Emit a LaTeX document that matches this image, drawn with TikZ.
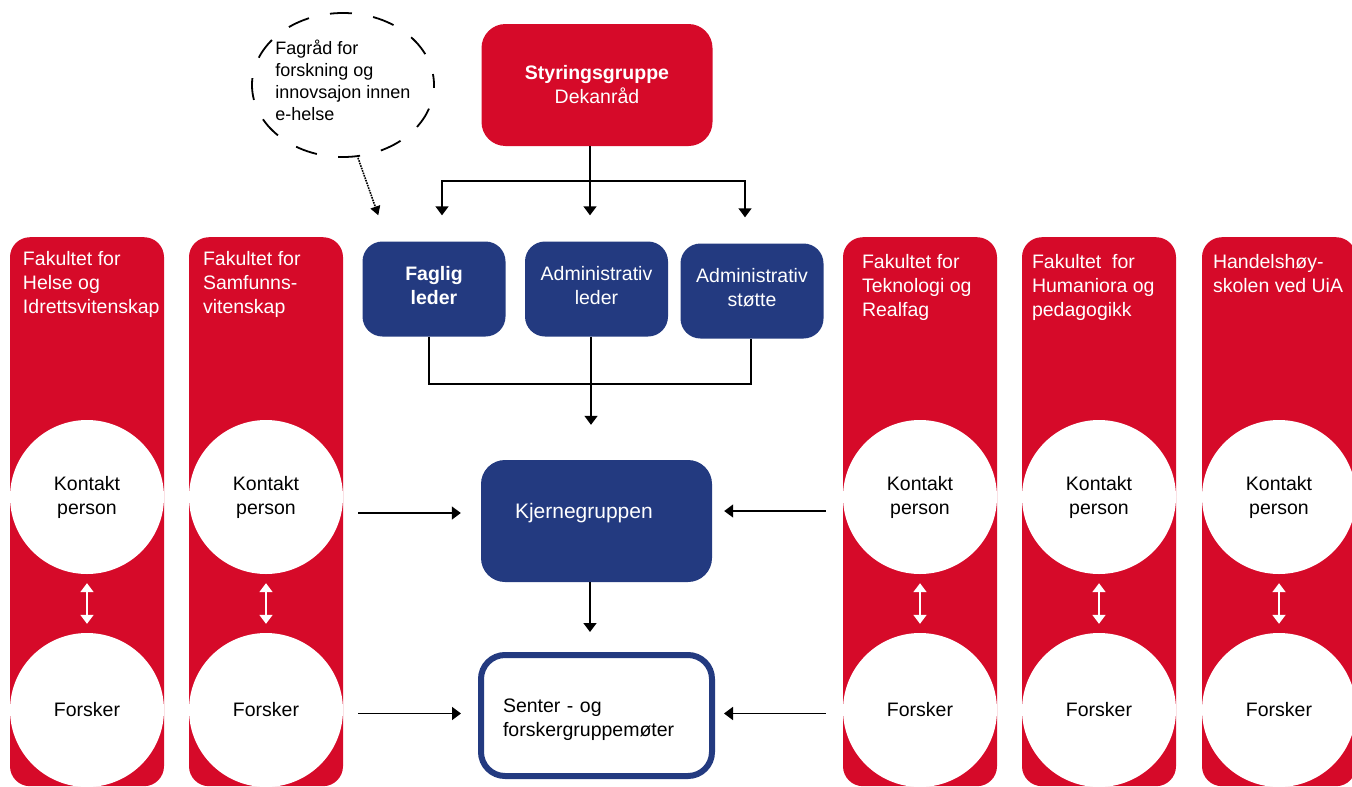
\documentclass[tikz,border=0pt]{standalone}
\usepackage{fontspec}
\setmainfont{Liberation Sans}
\usepackage{color}
\definecolor{uiared}{RGB}{214,10,41}
\definecolor{uiablue}{RGB}{35,58,128}
\usepackage{tikz}
\usetikzlibrary{calc,arrows.meta,shapes.geometric,positioning}
\tikzstyle{redbox}=[fill=uiared,rounded corners=24pt,minimum width=231pt,minimum height=122pt,text=white,align=center,font=\fontsize{19.5}{24}\selectfont]
\tikzstyle{bluebox}=[fill=uiablue,rounded corners=20pt,minimum width=143pt,minimum height=95pt,text=white,align=center,text depth=8pt,font=\fontsize{19.5}{24}\selectfont]
\tikzstyle{column}=[fill=uiared,rounded corners=20pt,minimum width=154pt,minimum height=549pt,inner sep=0pt,anchor=north]
\tikzstyle{coltext}=[text=white,align=left,inner sep=0pt,font=\fontsize{19.5}{24}\selectfont]
\tikzstyle{person}=[circle,fill=white,minimum size=154pt,inner sep=0pt,align=center,font=\fontsize{19.5}{24}\selectfont]
\tikzstyle{link}=[line width=1.6pt,-{Triangle[length=9pt,width=13pt]}]
\tikzstyle{swap}=[line width=1.8pt,white,{Triangle[length=9pt,width=13pt]}-{Triangle[length=9pt,width=13pt]},shorten <=9pt,shorten >=9pt]

\begin{document}
\begin{tikzpicture}[x=1pt,y=-1pt]
\useasboundingbox (0,0) rectangle (1352,787);
\clip (0,0) rectangle (1352,787);
% top
\draw (343, 85) node [ellipse, draw, dashed, line width=1.8pt, dash pattern=on 22pt off 21.5pt, dash phase=11pt, minimum width=182pt, minimum height=144pt, align=left, inner xsep=-5pt, inner ysep=0pt, text depth=9pt, font=\fontsize{18}{22}\selectfont] (fagrad) {Fagråd for\\forskning og\\innovsajon innen\\e-helse};
\draw (597, 85) node [redbox] (styr) {\textbf{Styringsgruppe}\\Dekanråd};
\draw (434, 289) node [bluebox] (faglig) {\textbf{Faglig}\\\textbf{leder}};
\draw (596.5, 289) node [bluebox] (admleder) {Administrativ\\leder};
\draw (752, 291) node [bluebox] (admstotte) {Administrativ\\støtte};
\draw (596.5, 521) node [bluebox, minimum width=231pt, minimum height=122pt, rounded corners=24pt, text width=163pt, align=left, text depth=20pt, font=\fontsize{21}{26}\selectfont] (kjerne) {Kjernegruppen};
\draw (596.5, 715.5) node [draw=uiablue, line width=6pt, fill=white, rounded corners=24pt, minimum width=231pt, minimum height=121pt, text width=187pt, text height=22pt, align=left, font=\fontsize{19.5}{24}\selectfont] (senter) {Senter - og\\forskergruppemøter};
% faculty columns
\draw (87, 237) node [column] (col1) {};
\draw (266, 237) node [column] (col2) {};
\draw (920, 237) node [column] (col4) {};
\draw (1099, 237) node [column] (col5) {};
\draw (1279, 237) node [column] (col6) {};
\node [coltext, below right=14pt and 13pt of col1.north west] (t1) {Fakultet for\\Helse og\\Idrettsvitenskap};
\node [coltext, below right=14pt and 14pt of col2.north west] (t2) {Fakultet for\\Samfunns-\\vitenskap};
\node [coltext, below right=17pt and 19pt of col4.north west] (t4) {Fakultet for\\Teknologi og\\Realfag};
\node [coltext, below right=17pt and 10pt of col5.north west] (t5) {Fakultet\ \ for\\Humaniora og\\pedagogikk};
\node [coltext, below right=17pt and 11pt of col6.north west] (t6) {Handelshøy-\\skolen ved UiA};
\draw (87, 497) node [person] (kp1) {Kontakt\\person};
\draw (266, 497) node [person] (kp2) {Kontakt\\person};
\draw (920, 497) node [person] (kp4) {Kontakt\\person};
\draw (1099, 497) node [person] (kp5) {Kontakt\\person};
\draw (1279, 497) node [person] (kp6) {Kontakt\\person};
\draw (87, 710) node [person] (fo1) {Forsker};
\draw (266, 710) node [person] (fo2) {Forsker};
\draw (920, 710) node [person] (fo4) {Forsker};
\draw (1099, 710) node [person] (fo5) {Forsker};
\draw (1279, 710) node [person] (fo6) {Forsker};
\draw[swap] (kp1) -- (fo1);
\draw[swap] (kp2) -- (fo2);
\draw[swap] (kp4) -- (fo4);
\draw[swap] (kp5) -- (fo5);
\draw[swap] (kp6) -- (fo6);
% connectors
\draw[line width=1.6pt, densely dotted, -{Triangle[length=9pt,width=10pt]}] ([xshift=15pt]fagrad.south) -- ([xshift=16pt,yshift=26pt]faglig.north west);
\draw[line width=1.6pt] ([xshift=-7pt]styr.south) -- ++(0,35) coordinate (fork);
\draw[link] (fork) -| ([xshift=8pt,yshift=26pt]faglig.north);
\draw[link] (fork) -- ([xshift=-6.5pt,yshift=26pt]admleder.north);
\draw[link] (fork) -| ([xshift=-7pt,yshift=26pt]admstotte.north);
\draw[line width=1.6pt] ([xshift=-5pt]faglig.south) -- ++(0,47) -| ([xshift=-1pt]admstotte.south);
\draw[link] ([xshift=-5.5pt]admleder.south) -- ([xshift=-5.5pt,yshift=35pt]kjerne.north);
\draw[link] ([xshift=-6.5pt]kjerne.south) -- ([xshift=-6.5pt,yshift=20pt]senter.north);
\coordinate (kjw) at ([yshift=8pt]kjerne.west);
\coordinate (kje) at ([yshift=10pt]kjerne.east);
\coordinate (sew) at ([yshift=2pt]senter.west);
\coordinate (see) at ([yshift=2pt]senter.east);
\draw[link, shorten <=15pt, shorten >=20pt] (kjw -| col2.east) -- (kjw);
\draw[link, shorten <=17pt, shorten >=12pt] (kje -| col4.west) -- (kje);
\draw[link, shorten <=15pt, shorten >=17pt] (sew -| col2.east) -- (sew);
\draw[link, shorten <=17pt, shorten >=9pt] (see -| col4.west) -- (see);
\end{tikzpicture}
\end{document}
